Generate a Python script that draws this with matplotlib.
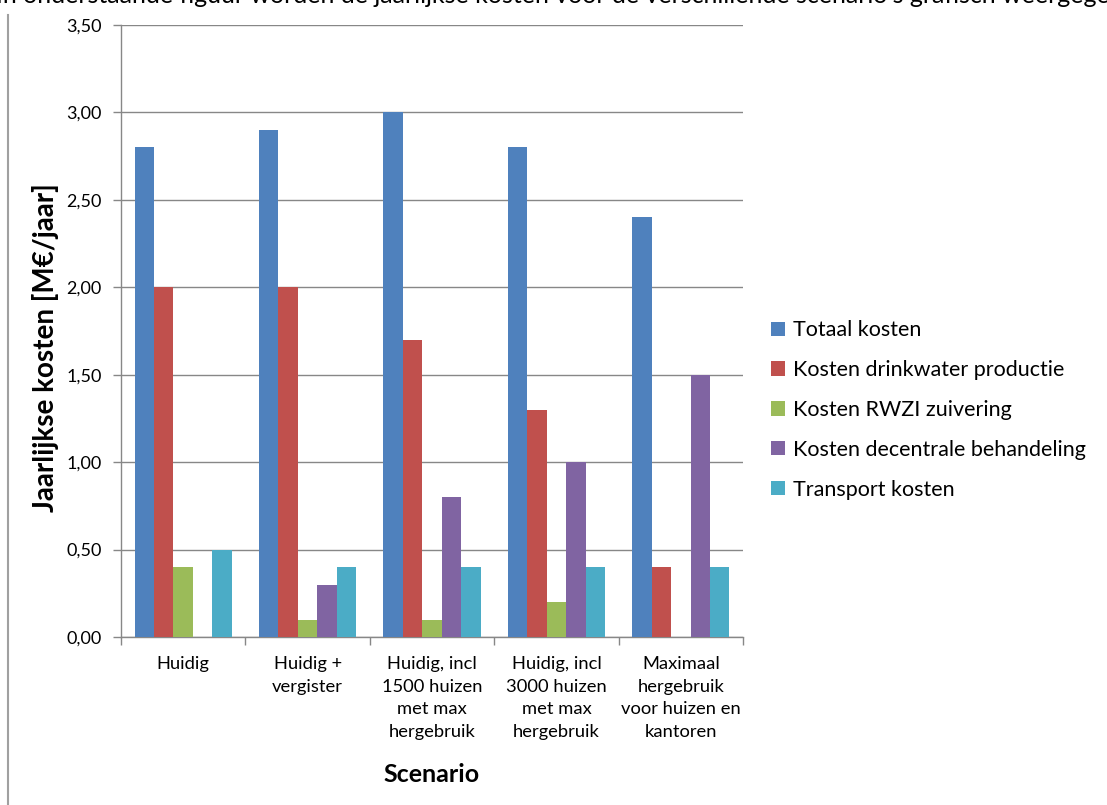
import matplotlib
matplotlib.use("Agg")
import matplotlib.pyplot as plt
import numpy as np

categories = ["Huidig", "Huidig +\nvergister", "Huidig, incl\n1500 huizen\nmet max\nhergebruik",
              "Huidig, incl\n3000 huizen\nmet max\nhergebruik", "Maximaal\nhergebruik\nvoor huizen en\nkantoren"]
series_names = ["Totaal kosten", "Kosten drinkwater productie", "Kosten RWZI zuivering",
                "Kosten decentrale behandeling", "Transport kosten"]
totaal = [2.8, 2.9, 3.0, 2.8, 2.4]
drinkwater = [2.0, 2.0, 1.7, 1.3, 0.4]
rwzi = [0.4, 0.1, 0.1, 0.2, 0.0]
decentraal = [0.0, 0.3, 0.8, 1.0, 1.5]
transport = [0.5, 0.4, 0.4, 0.4, 0.4]
yticks = [0.0, 0.5, 1.0, 1.5, 2.0, 2.5, 3.0, 3.5]
ytick_labels = ["0,00", "0,50", "1,00", "1,50", "2,00", "2,50", "3,00", "3,50"]

colors = ["#4F81BD", "#C0504D", "#9BBB59", "#8064A2", "#4BACC6"]
font = ["Lato", "DejaVu Sans"]
plt.rcParams['font.family'] = font

W, H = 1107, 805
fig = plt.figure(figsize=(W / 100, H / 100), dpi=100)
ax = fig.add_axes([121/W, 1-637/H, (743-121)/W, (637-25)/H])

series = [totaal, drinkwater, rwzi, decentraal, transport]
x = np.arange(len(categories))
bw = 0.156
for i, (vals, c, name) in enumerate(zip(series, colors, series_names)):
    ax.bar(x + (i - 2) * bw, vals, width=bw, color=c, label=name, zorder=3)

ax.set_xlim(-0.5, len(categories) - 0.5)
ax.set_ylim(0, 3.5)
ax.set_yticks(yticks)
ax.set_yticklabels(ytick_labels, fontsize=13)
ax.yaxis.grid(True, color="#878787", linewidth=1, zorder=0)
ax.set_axisbelow(True)

ax.set_xticks(x)
ax.set_xticklabels(categories, fontsize=13.2, linespacing=1.5, va="top")
ax.tick_params(axis="x", length=0, pad=14)
ax.set_xticks(np.arange(-0.5, len(categories)), minor=True)
ax.tick_params(axis="x", which="minor", length=6, color="#878787", width=1)
ax.tick_params(axis="y", length=6, color="#878787", width=1, pad=8)

for s in ["top", "right"]:
    ax.spines[s].set_visible(False)
for s in ["left", "bottom"]:
    ax.spines[s].set_color("#878787")
    ax.spines[s].set_linewidth(1)

fig.text(46/W, 1-348/H, "Jaarlijkse kosten [M€/jaar]", fontsize=20, fontweight="bold",
         rotation=90, ha="center", va="center")
fig.text(432/W, 1-774/H, "Scenario", fontsize=18, fontweight="bold", ha="center", va="center")

leg = fig.legend(loc="upper left", bbox_to_anchor=(752/W, 1-301/H), frameon=False,
                 fontsize=15.5, handlelength=0.65, handleheight=0.65, handletextpad=0.35,
                 labelspacing=0.92)

# page border line and cut-off caption at top
fig.add_artist(plt.Line2D([8/W, 8/W], [0, 1-15/H], color="#A0A0A0", linewidth=1.5,
                          transform=fig.transFigure))
fig.text(-0.004, 1.006, "In onderstaande figuur worden de jaarlijkse kosten voor de verschillende scenario's grafisch weergegeven",
         fontsize=18, ha="left", va="center")

fig.savefig("out.png", dpi=100)
